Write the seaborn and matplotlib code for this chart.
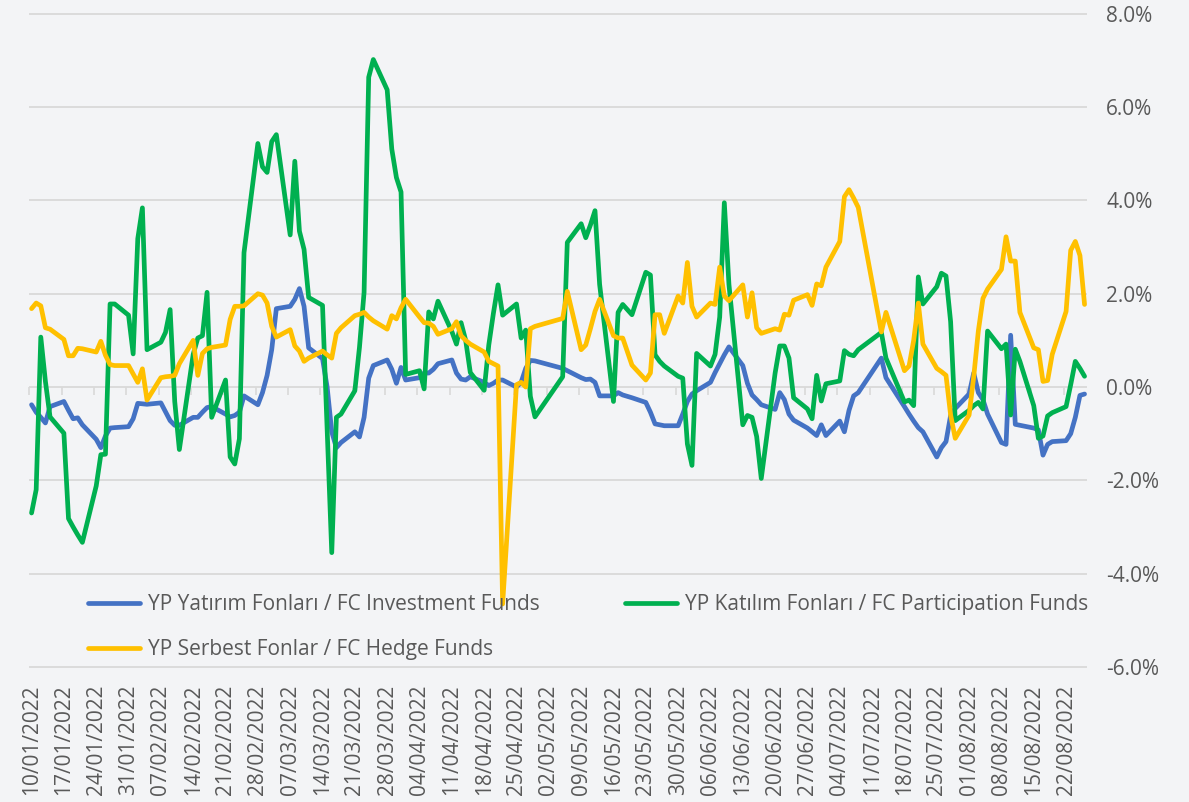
import pandas as pd
import numpy as np
import matplotlib
matplotlib.use("Agg")
import matplotlib.pyplot as plt
import matplotlib.dates as mdates
from matplotlib.ticker import FuncFormatter
import seaborn as sns

# trading days 10/01/2022 - 26/08/2022 (bayram / national holidays are not in the data)
holidays = ['2022-05-02', '2022-05-03', '2022-05-04', '2022-05-19',
            '2022-07-11', '2022-07-12', '2022-07-15']
dates = pd.bdate_range('2022-01-10', '2022-08-26')
dates = dates[~dates.isin(pd.to_datetime(holidays))]

series_names = ['YP Yatırım Fonları / FC Investment Funds',
                'YP Katılım Fonları / FC Participation Funds',
                'YP Serbest Fonlar / FC Hedge Funds']

# values in %, one row per week
investment = [
    -0.38, -0.54, -0.65, -0.77, -0.42,
    -0.31, -0.50, -0.68, -0.66, -0.81,
    -1.12, -1.30, -1.05, -0.88, -0.87,
    -0.85, -0.68, -0.35, -0.36, -0.37,
    -0.34, -0.53, -0.72, -0.82, -0.82,
    -0.65, -0.65, -0.54, -0.44, -0.42,
    -0.58, -0.64, -0.61, -0.54, -0.19,
    -0.38, -0.12, 0.25, 0.80, 1.68,
    1.73, 1.88, 2.11, 1.73, 0.84,
    0.61, 0.00, -0.96, -1.30, -1.19,
    -0.96, -1.07, -0.65, 0.19, 0.46,
    0.58, 0.38, 0.08, 0.42, 0.15,
    0.20, 0.30, 0.30, 0.38, 0.50,
    0.58, 0.30, 0.17, 0.15, 0.22,
    0.10, 0.03, 0.08, 0.15, 0.15,
    0.00, 0.10, 0.40, 0.57, 0.56,
    0.40, 0.35,
    0.20, 0.16, 0.17, 0.10, -0.19,
    -0.19, -0.12, -0.17, -0.23,
    -0.33, -0.54, -0.79, -0.81, -0.83,
    -0.83, -0.58, -0.31, -0.15, -0.08,
    0.10, 0.31, 0.50, 0.69, 0.86,
    0.46, 0.08, -0.17, -0.27, -0.38,
    -0.48, -0.12, -0.27, -0.58, -0.71,
    -0.88, -0.96, -1.04, -0.81, -1.04,
    -0.73, -0.96, -0.50, -0.19, -0.12,
    0.62, 0.20,
    -0.42, -0.58, -0.73, -0.87, -0.96,
    -1.50, -1.30, -1.17, -0.61, -0.46,
    -0.15, 0.30, -0.12, -0.27, -0.58,
    -1.19, -1.23, 1.11, -0.80, -0.82,
    -0.88, -0.92, -1.46, -1.23, -1.17,
    -1.15, -1.00, -0.65, -0.18, -0.15,
]

participation = [
    -2.70, -2.20, 1.07, 0.12, -0.64,
    -0.99, -2.82, -3.00, -3.17, -3.33,
    -2.12, -1.45, -1.44, 1.78, 1.78,
    1.54, 0.71, 3.18, 3.84, 0.80,
    0.96, 1.17, 1.66, -0.31, -1.34,
    0.70, 1.05, 1.10, 2.03, -0.65,
    0.15, -1.50, -1.65, -1.11, 2.88,
    5.22, 4.72, 4.60, 5.26, 5.41,
    3.26, 4.84, 3.34, 2.95, 1.92,
    1.75, -0.90, -3.55, -0.65, -0.58,
    -0.08, 0.85, 2.03, 6.64, 7.02,
    6.37, 5.10, 4.49, 4.18, 0.27,
    0.35, -0.04, 1.61, 1.46, 1.84,
    1.19, 0.92, 1.38, 1.00, 0.31,
    -0.07, 0.90, 1.58, 2.19, 1.54,
    1.78, 1.05, 1.22, -0.20, -0.64,
    0.22, 3.10,
    3.50, 3.20, 3.47, 3.78, 2.20,
    -0.31, 1.60, 1.77, 1.55,
    2.46, 2.40, 0.69, 0.55, 0.45,
    0.23, 0.19, -1.22, -1.68, 0.72,
    0.45, 0.70, 1.50, 3.95, 2.20,
    -0.81, -0.61, -0.65, -1.06, -1.96,
    0.30, 0.88, 0.88, 0.62, -0.23,
    -0.47, -0.68, 0.25, -0.30, 0.07,
    0.13, 0.78, 0.70, 0.67, 0.80,
    1.17, 0.62,
    -0.32, -0.28, -0.40, 2.36, 1.78,
    2.15, 2.44, 2.38, 1.40, -0.72,
    -0.50, -0.40, -0.33, -0.47, 1.20,
    0.82, 0.92, -0.60, 0.81, 0.55,
    -0.40, -1.10, -1.05, -0.62, -0.55,
    -0.42, 0.05, 0.55, 0.40, 0.23,
]

hedge = [
    1.68, 1.80, 1.74, 1.27, 1.24,
    1.02, 0.67, 0.67, 0.83, 0.82,
    0.75, 0.98, 0.68, 0.48, 0.46,
    0.46, 0.28, 0.10, 0.39, -0.28,
    0.20, 0.22, 0.23, 0.25, 0.50,
    1.00, 0.25, 0.72, 0.82, 0.85,
    0.90, 1.45, 1.73, 1.73, 1.74,
    2.00, 1.97, 1.80, 1.30, 1.07,
    1.23, 0.88, 0.77, 0.55, 0.62,
    0.77, 0.69, 0.62, 1.15, 1.27,
    1.53, 1.56, 1.60, 1.50, 1.42,
    1.24, 1.53, 1.46, 1.70, 1.88,
    1.50, 1.38, 1.37, 1.30, 1.13,
    1.25, 1.40, 1.10, 1.00, 0.92,
    0.75, 0.55, 0.50, 0.45, -4.65,
    0.05, 0.10, 0.00, 1.25, 1.30,
    1.47, 2.05,
    0.80, 0.90, 1.25, 1.62, 1.88,
    1.10, 1.05, 1.05, 0.47,
    0.15, 0.30, 1.55, 1.55, 1.15,
    1.95, 1.80, 2.67, 1.73, 1.50,
    1.80, 1.77, 2.57, 1.95, 1.85,
    2.19, 1.50, 2.02, 1.27, 1.15,
    1.25, 1.22, 1.56, 1.54, 1.86,
    1.98, 1.75, 2.21, 2.17, 2.57,
    3.12, 4.08, 4.23, 4.05, 3.85,
    1.18, 1.60,
    0.35, 0.45, 1.00, 1.80, 0.92,
    0.40, 0.33, 0.25, -0.60, -1.10,
    -0.60, 0.22, 1.20, 1.90, 2.10,
    2.52, 3.22, 2.70, 2.70, 1.60,
    0.84, 0.80, 0.12, 0.14, 0.70,
    1.62, 2.93, 3.12, 2.82, 1.77,
]

y_ticks = [-6, -4, -2, 0, 2, 4, 6, 8]

colors = ['#4472C4', '#00B050', '#FFC000']
bg = '#f3f4f6'
grid_col = '#d9d9d9'
text_col = '#595959'

sns.set_style("white")
plt.rcParams['font.family'] = ['Open Sans', 'DejaVu Sans']

fig = plt.figure(figsize=(11.89, 8.02), dpi=100, facecolor=bg)
lo, hi = -6.05, 8.05
ax = fig.add_axes([0.0246, 0.1655, 0.8895, 0.8202], facecolor=bg)

for name, vals, col in zip(series_names, [investment, participation, hedge], colors):
    sns.lineplot(x=dates, y=vals, ax=ax, color=col, lw=3.4, label=name,
                 legend=False, solid_joinstyle='round', solid_capstyle='round')

# x axis: weekly date labels at the bottom
weekly = pd.date_range('2022-01-10', '2022-08-22', freq='7D')
ax.set_xlim(dates[0] - pd.Timedelta(hours=12), dates[-1] + pd.Timedelta(hours=12))
ax.set_xticks(weekly)
ax.set_xticklabels([d.strftime('%d/%m/%Y') for d in weekly], rotation=90)
ax.tick_params(axis='x', length=0, pad=11, labelsize=15, labelcolor=text_col)
ax.set_xlabel('')

# y axis on the right
ax.set_ylim(lo, hi)
ax.set_yticks(y_ticks)
ax.yaxis.tick_right()
ax.yaxis.set_major_formatter(FuncFormatter(lambda v, p: f"{v:.1f}%"))
ax.tick_params(axis='y', length=0, pad=14, labelsize=15, labelcolor=text_col)
ax.set_ylabel('')

ax.grid(axis='y', color=grid_col, lw=1.3)
ax.grid(axis='x', visible=False)
ax.set_axisbelow(True)
for s in ax.spines.values():
    s.set_visible(False)

# small tick marks hanging from the zero line
sec = ax.secondary_xaxis((0 - lo) / (hi - lo))
sec.set_xticks(mdates.date2num(weekly - pd.Timedelta(hours=12)))
sec.tick_params(axis='x', direction='out', length=6, width=1.2, color=grid_col,
                labelbottom=False, labeltop=False)
for s in sec.spines.values():
    s.set_visible(False)

lines = ax.get_lines()
order = [0, 2, 1]
ax.legend([lines[i] for i in order], [series_names[i] for i in order],
          ncol=2, frameon=False, loc='upper left', bbox_to_anchor=(0.0555, 0.1137),
          borderaxespad=0, borderpad=0, fontsize=15, labelcolor=text_col,
          handlelength=2.5, handletextpad=0.38, columnspacing=4.1, labelspacing=1.15)

fig.savefig('out.png', dpi=100, facecolor=bg)
